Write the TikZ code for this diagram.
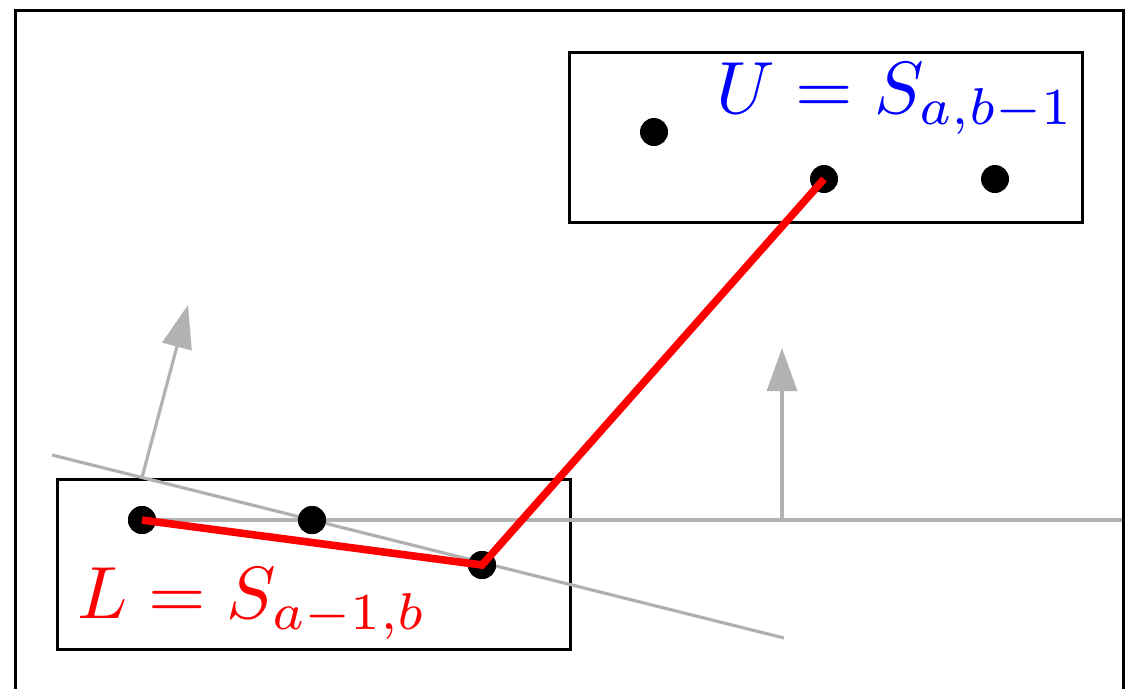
\documentclass[tikz,border=0pt]{standalone}
\usetikzlibrary{arrows.meta}
\begin{document}
\begin{tikzpicture}[x=0.25pt,y=-0.25pt,
  dot/.style={circle,fill=black,inner sep=0pt,minimum size=7pt},
  setbox/.style={draw=black,line width=0.7pt,inner sep=0pt,anchor=north west},
  guide/.style={draw=black!30,line width=0.8pt},
  garrow/.style={guide,-{Triangle[length=10.75pt,width=7.5pt]}},
  chain/.style={draw=red,line width=1.9pt,line join=miter},
  lbl/.style={inner sep=0pt,anchor=base west}]
\useasboundingbox (0,0) rectangle (1132,688);
\clip (0,0) rectangle (1132,688);
% outer frame
\node[draw=black,line width=0.8pt,inner sep=0pt,anchor=north west,minimum width=277pt,minimum height=180pt] (frame) at (14,9) {};
% boxes
\node[setbox,minimum width=128.25pt,minimum height=42.5pt] (ubox) at (568,51) {};
\node[setbox,minimum width=128.25pt,minimum height=42.5pt] (lbox) at (56,478) {};
% guide coordinates
\coordinate (s1) at (52,455);
\coordinate (s2) at (784,638);
\coordinate (nb) at (142,477.5);
\coordinate (nt) at (188,305);
\coordinate (vb) at (782,520);
\coordinate (vt) at (782,348);
\coordinate (hr) at (1122,520);
% dots
\node[dot] (u1) at (654,132) {};
\node[dot] (u2) at (824,179) {};
\node[dot] (u3) at (995,179) {};
\node[dot] (l1) at (142,520) {};
\node[dot] (l2) at (312,520) {};
\node[dot] (l3) at (482,565) {};
% gray guides
\draw[guide] (s1) -- (s2);
\draw[guide] (l1.center) -- (hr);
\draw[garrow] (nb) -- (nt);
\draw[garrow] (vb) -- (vt);
% dots on top
\node[dot] at (l1) {};
\node[dot] at (l2) {};
\node[dot] at (l3) {};
% red chain
\draw[chain] (l1.center) -- (l3.center) -- (u2.center);
% labels
\node[lbl,text=blue] (ulbl) at (716,113) {\scalebox{1.85}{$U=S_{a,b-1}$}};
\node[lbl,text=red] (llbl) at (77,618) {\scalebox{1.85}{$L=S_{a-1,b}$}};
\end{tikzpicture}
\end{document}
